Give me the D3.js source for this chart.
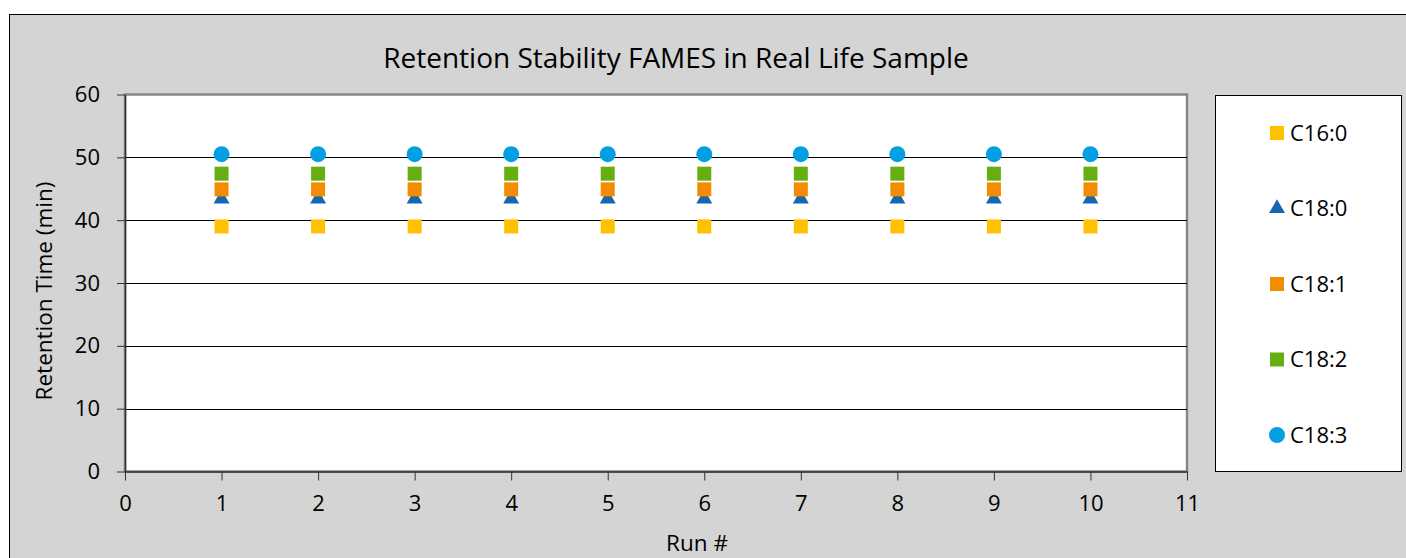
<!DOCTYPE html>
<html>
<head>
<meta charset="utf-8">
<script src="https://cdn.jsdelivr.net/npm/d3@7"></script>
<style>
  html, body { margin: 0; padding: 0; background: #ffffff; }
  svg { display: block; }
  text { font-family: "Open Sans", "Noto Sans", sans-serif; fill: #000; }
</style>
</head>
<body>
<svg id="chart" width="1406" height="558"></svg>
<script>
// Run numbers and retention times (min) per FAME
const runs = [1, 2, 3, 4, 5, 6, 7, 8, 9, 10];
const c16_0 = [39.0, 39.0, 39.0, 39.0, 39.0, 39.0, 39.0, 39.0, 39.0, 39.0];
const c18_0 = [43.4, 43.4, 43.4, 43.4, 43.4, 43.4, 43.4, 43.4, 43.4, 43.4];
const c18_1 = [44.9, 44.9, 44.9, 44.9, 44.9, 44.9, 44.9, 44.9, 44.9, 44.9];
const c18_2 = [47.4, 47.4, 47.4, 47.4, 47.4, 47.4, 47.4, 47.4, 47.4, 47.4];
const c18_3 = [50.5, 50.5, 50.5, 50.5, 50.5, 50.5, 50.5, 50.5, 50.5, 50.5];

const seriesNames = ["C16:0", "C18:0", "C18:1", "C18:2", "C18:3"];
const seriesValues = [c16_0, c18_0, c18_1, c18_2, c18_3];
const seriesColors = ["#FFC000", "#1767AF", "#F28C00", "#67AE10", "#02A0E2"];
const seriesShapes = ["square", "triangle", "square", "square", "circle"];

const xTicks = [0, 1, 2, 3, 4, 5, 6, 7, 8, 9, 10, 11];
const yTicks = [0, 10, 20, 30, 40, 50, 60];

const titleText = "Retention Stability FAMES in Real Life Sample";
const xTitle = "Run #";
const yTitle = "Retention Time (min)";

const svg = d3.select("#chart");

// Chart area background
svg.append("rect")
  .attr("x", 9.5).attr("y", 14.5)
  .attr("width", 1420).attr("height", 560)
  .attr("fill", "#D3D4D3")
  .attr("stroke", "#000").attr("stroke-width", 1);

const plot = { left: 125, top: 94.5, right: 1187, bottom: 471.5 };

const x = d3.scaleLinear().domain([0, 11]).range([plot.left, plot.right]);
const y = d3.scaleLinear().domain([0, 60]).range([plot.bottom, plot.top]);

// Plot area
svg.append("rect")
  .attr("x", plot.left).attr("y", plot.top)
  .attr("width", plot.right - plot.left).attr("height", plot.bottom - plot.top)
  .attr("fill", "#fff")
  .attr("stroke", "#868686").attr("stroke-width", 2.5);

// Horizontal gridlines
svg.append("g")
  .selectAll("line")
  .data(yTicks.filter(d => d > 0 && d < 60))
  .join("line")
  .attr("x1", plot.left).attr("x2", plot.right)
  .attr("y1", d => Math.round(y(d)) + 0.5).attr("y2", d => Math.round(y(d)) + 0.5)
  .attr("stroke", "#000").attr("stroke-width", 1);

// Axes
const yAxis = svg.append("g")
  .attr("transform", `translate(${plot.left},0)`)
  .call(d3.axisLeft(y).tickValues(yTicks).tickSize(8).tickPadding(17).tickSizeOuter(0));
const xAxis = svg.append("g")
  .attr("transform", `translate(0,${plot.bottom})`)
  .call(d3.axisBottom(x).tickValues(xTicks).tickSize(9).tickPadding(15).tickSizeOuter(0));

[yAxis, xAxis].forEach(g => {
  g.select(".domain").attr("stroke", "#333").attr("stroke-width", 1.5);
  g.selectAll(".tick line").attr("stroke", "#333").attr("stroke-width", 1);
  g.selectAll(".tick text")
    .attr("font-family", "'Open Sans', 'Noto Sans', sans-serif")
    .attr("font-size", 22).attr("fill", "#000");
});

// Marker generators
const markerPath = {
  square: d3.symbol().type(d3.symbolSquare).size(14 * 14),
  triangle: d3.symbol().type(d3.symbolTriangle).size(110),
  circle: d3.symbol().type(d3.symbolCircle).size(Math.PI * 8 * 8)
};

// Series markers, drawn in series order
seriesValues.forEach((vals, i) => {
  svg.append("g")
    .selectAll("path")
    .data(vals.map((v, j) => ({ run: runs[j], v })))
    .join("path")
    .attr("d", markerPath[seriesShapes[i]]())
    .attr("transform", d => `translate(${x(d.run)},${y(d.v)})`)
    .attr("fill", seriesColors[i]);
});

// Title
svg.append("text")
  .attr("x", 676).attr("y", 68)
  .attr("text-anchor", "middle")
  .attr("font-size", 28)
  .text(titleText);

// Axis titles
svg.append("text")
  .attr("x", 697).attr("y", 551)
  .attr("text-anchor", "middle")
  .attr("font-size", 22.5)
  .text(xTitle);
svg.append("text")
  .attr("transform", "translate(52,291) rotate(-90)")
  .attr("text-anchor", "middle")
  .attr("font-size", 22.5)
  .text(yTitle);

// Legend
const legend = svg.append("g");
legend.append("rect")
  .attr("x", 1215.5).attr("y", 95.5)
  .attr("width", 186).attr("height", 376)
  .attr("fill", "#fff").attr("stroke", "#000").attr("stroke-width", 1);

const legendY = d3.scalePoint().domain(seriesNames).range([133, 435]);
seriesNames.forEach((name, i) => {
  const cy = legendY(name);
  legend.append("path")
    .attr("d", markerPath[seriesShapes[i]]())
    .attr("transform", `translate(1277,${cy})`)
    .attr("fill", seriesColors[i]);
  legend.append("text")
    .attr("x", 1290).attr("y", cy)
    .attr("dy", "0.35em")
    .attr("font-size", 22)
    .text(name);
});
</script>
</body>
</html>
